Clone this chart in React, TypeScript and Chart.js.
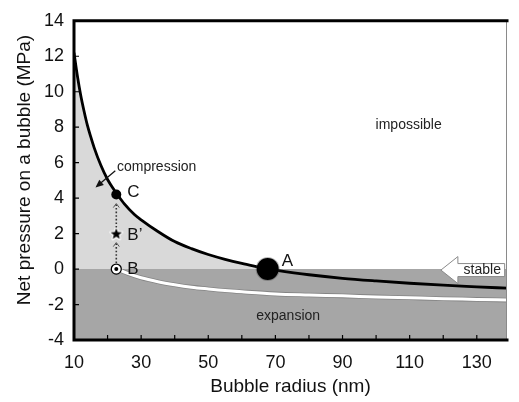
import React, { useEffect, useRef } from 'react';
import { Chart, registerables } from 'chart.js';

Chart.register(...registerables);

// ---- data ----
const compressedRadius = [10, 11, 12, 13, 14, 15, 16, 18, 20, 22, 23, 25, 28, 30, 35, 40, 45, 50, 55, 60, 65, 68, 70, 80, 90, 100, 110, 120, 130, 139];
const compressedPressure = [12.2, 10.9, 9.8, 8.9, 8.1, 7.45, 6.85, 5.85, 5.05, 4.45, 4.18, 3.68, 3.08, 2.78, 2.12, 1.55, 1.15, 0.82, 0.55, 0.32, 0.12, 0, -0.06, -0.32, -0.52, -0.67, -0.8, -0.91, -1.0, -1.08];

const freeRadius = [10, 11, 12, 13, 14, 16, 18, 20, 23, 26, 30, 35, 40, 45, 50, 55, 60, 70, 80, 90, 100, 110, 120, 130, 139];
const freePressure = [2.7, 2.27, 1.91, 1.6, 1.34, 0.91, 0.58, 0.31, 0, -0.24, -0.49, -0.71, -0.88, -1.02, -1.12, -1.21, -1.28, -1.4, -1.46, -1.51, -1.57, -1.62, -1.67, -1.71, -1.75];

const markerLabels = ['A', 'C', 'B\u2019', 'B'];
const markerRadius = [67.7, 22.6, 22.6, 22.6];
const markerPressure = [0, 4.2, 2.0, 0];

const xTickValues = [10, 20, 30, 40, 50, 60, 70, 80, 90, 100, 110, 120, 130];
const xLabelValues = [10, 30, 50, 70, 90, 110, 130];
const yTickValues = [-4, -2, 0, 2, 4, 6, 8, 10, 12, 14];

const regionNotes = ['impossible', 'compression', 'expansion', 'stable'];
const yTitle = 'Net pressure on a bubble (MPa)';
const xTitle = 'Bubble radius (nm)';

// ---- styling / placement ----
const FAMILY = '"Liberation Sans", Arial, Helvetica, sans-serif';
const LIGHT = '#d9d9d9';
const DARK = '#a6a6a6';
const X_MIN = 10;
const X_MAX = 139;

function makeStar(): HTMLCanvasElement {
  const c = document.createElement('canvas');
  c.width = 18;
  c.height = 18;
  const g = c.getContext('2d')!;
  g.translate(9, 9.5);
  g.beginPath();
  for (let i = 0; i < 10; i++) {
    const r = i % 2 === 0 ? 6 : 2.6;
    const a = -Math.PI / 2 + (i * Math.PI) / 5;
    g.lineTo(r * Math.cos(a), r * Math.sin(a));
  }
  g.closePath();
  g.lineJoin = 'round';
  g.lineWidth = 2.5;
  g.strokeStyle = 'rgba(255,255,255,0.95)';
  g.stroke();
  g.fillStyle = '#000';
  g.fill();
  return c;
}

const overlayPlugin = {
  id: 'overlay',
  afterDatasetsDraw(chart: any) {
    const { ctx } = chart;
    const xs = chart.scales.x;
    const ys = chart.scales.y;
    const px = (v: number) => xs.getPixelForValue(v);
    const py = (v: number) => ys.getPixelForValue(v);
    ctx.save();

    // dotted arrows B -> B' -> C
    const bx = px(markerRadius[3]);
    const segs = [
      [markerPressure[3], markerPressure[2]],
      [markerPressure[2], markerPressure[1]],
    ];
    segs.forEach(([from, to]) => {
      const y0 = py(from) - 6;
      const y1 = py(to) + 9;
      ctx.strokeStyle = '#333';
      ctx.lineWidth = 1.6;
      ctx.setLineDash([1.6, 2]);
      ctx.beginPath();
      ctx.moveTo(bx, y0);
      ctx.lineTo(bx, y1);
      ctx.stroke();
      ctx.setLineDash([]);
      ctx.lineWidth = 1;
      ctx.strokeStyle = '#555';
      ctx.beginPath();
      ctx.moveTo(bx - 3, y1 + 4);
      ctx.lineTo(bx, y1);
      ctx.lineTo(bx + 3, y1 + 4);
      ctx.stroke();
    });

    // compression arrow
    const ax0 = px(22.3), ay0 = py(5.55);
    const ax1 = px(16.4), ay1 = py(4.6);
    const ang = Math.atan2(ay1 - ay0, ax1 - ax0);
    ctx.strokeStyle = '#111';
    ctx.fillStyle = '#111';
    ctx.lineWidth = 1.3;
    ctx.beginPath();
    ctx.moveTo(ax0, ay0);
    ctx.lineTo(ax1 - 5 * Math.cos(ang), ay1 - 5 * Math.sin(ang));
    ctx.stroke();
    ctx.beginPath();
    ctx.moveTo(ax1, ay1);
    ctx.lineTo(ax1 - 8 * Math.cos(ang) + 3.5 * Math.sin(ang), ay1 - 8 * Math.sin(ang) - 3.5 * Math.cos(ang));
    ctx.lineTo(ax1 - 8 * Math.cos(ang) - 3.5 * Math.sin(ang), ay1 - 8 * Math.sin(ang) + 3.5 * Math.cos(ang));
    ctx.closePath();
    ctx.fill();

    // region notes
    ctx.font = `14px ${FAMILY}`;
    ctx.fillStyle = '#222';
    ctx.textBaseline = 'middle';
    ctx.textAlign = 'center';
    ctx.fillText(regionNotes[0], px(109.7), py(8.1));
    ctx.textAlign = 'left';
    ctx.fillText(regionNotes[1], px(22.8), py(5.75));
    ctx.textAlign = 'center';
    ctx.fillText(regionNotes[2], px(73.8), py(-2.63));

    // stable block arrow
    const tipX = px(119.3);
    const endX = px(138.3);
    const cy = py(0) + 1;
    ctx.beginPath();
    ctx.moveTo(tipX, cy);
    ctx.lineTo(tipX + 17, cy - 13.5);
    ctx.lineTo(tipX + 17, cy - 6.5);
    ctx.lineTo(endX, cy - 6.5);
    ctx.lineTo(endX, cy + 6.5);
    ctx.lineTo(tipX + 17, cy + 6.5);
    ctx.lineTo(tipX + 17, cy + 13.5);
    ctx.closePath();
    ctx.fillStyle = '#fff';
    ctx.fill();
    ctx.strokeStyle = '#8a8a8a';
    ctx.lineWidth = 1;
    ctx.stroke();
    ctx.fillStyle = '#222';
    ctx.font = `14px ${FAMILY}`;
    ctx.textAlign = 'center';
    ctx.fillText(regionNotes[3], (tipX + 17 + endX) / 2 + 1, cy);

    // marker letters
    const offs = [
      [14, -8],
      [11, -2],
      [11, 2],
      [11, 0],
    ];
    ctx.font = `17px ${FAMILY}`;
    ctx.fillStyle = '#111';
    ctx.textAlign = 'left';
    markerLabels.forEach((t, i) => {
      ctx.fillText(t, px(markerRadius[i]) + offs[i][0], py(markerPressure[i]) + offs[i][1]);
    });
    ctx.restore();
  },
  afterDraw(chart: any) {
    const { ctx, chartArea } = chart;
    const xs = chart.scales.x;
    const ys = chart.scales.y;
    const { left, right, top, bottom } = chartArea;
    ctx.save();
    // inner ticks
    ctx.strokeStyle = '#000';
    ctx.lineWidth = 1.2;
    ctx.beginPath();
    xTickValues.forEach((v) => {
      const x = xs.getPixelForValue(v);
      ctx.moveTo(x, bottom);
      ctx.lineTo(x, bottom - 5);
    });
    yTickValues.forEach((v) => {
      const y = ys.getPixelForValue(v);
      ctx.moveTo(left, y);
      ctx.lineTo(left + 5, y);
    });
    ctx.stroke();
    // frame
    ctx.strokeStyle = '#8a8a8a';
    ctx.lineWidth = 1;
    ctx.beginPath();
    ctx.moveTo(right - 0.5, top);
    ctx.lineTo(right - 0.5, bottom);
    ctx.stroke();
    ctx.strokeStyle = '#000';
    ctx.lineWidth = 3;
    ctx.lineCap = 'square';
    ctx.beginPath();
    ctx.moveTo(right, top);
    ctx.lineTo(left, top);
    ctx.lineTo(left, bottom);
    ctx.lineTo(right, bottom);
    ctx.stroke();
    // y title
    ctx.translate(25, 170);
    ctx.rotate(-Math.PI / 2);
    ctx.font = `19px ${FAMILY}`;
    ctx.fillStyle = '#111';
    ctx.textAlign = 'center';
    ctx.textBaseline = 'middle';
    ctx.fillText(yTitle, 0, 0);
    ctx.restore();
  },
};

export default function App() {
  const ref = useRef<HTMLCanvasElement | null>(null);

  useEffect(() => {
    if (!ref.current) return;
    const star = makeStar();
    const black = compressedRadius.map((x, i) => ({ x, y: compressedPressure[i] }));
    const white = freeRadius.map((x, i) => ({ x, y: freePressure[i] }));
    const pt = (i: number) => [{ x: markerRadius[i], y: markerPressure[i] }];

    const chart = new Chart(ref.current, {
      type: 'line',
      data: {
        datasets: [
          { data: pt(0), showLine: false, pointRadius: 11, pointBackgroundColor: '#000', pointBorderWidth: 0, order: 0 } as any,
          { data: pt(1), showLine: false, pointRadius: 5, pointBackgroundColor: '#000', pointBorderWidth: 0, order: 0 } as any,
          { data: pt(2), showLine: false, pointStyle: star, pointRadius: 6, order: 0 } as any,
          { data: pt(3), showLine: false, pointRadius: 2, pointBackgroundColor: '#000', pointBorderWidth: 0, order: 0 } as any,
          { data: pt(3), showLine: false, pointRadius: 5, pointBackgroundColor: '#fff', pointBorderColor: '#000', pointBorderWidth: 1.3, order: 1 } as any,
          { data: pt(0), showLine: false, pointRadius: 12, pointBackgroundColor: 'rgba(60,60,60,0.35)', pointBorderWidth: 0, order: 2 } as any,
          {
            data: black,
            borderColor: '#000',
            borderWidth: 2.8,
            pointRadius: 0,
            cubicInterpolationMode: 'monotone',
            fill: { target: { value: 0 }, above: LIGHT, below: 'rgba(0,0,0,0)' },
            order: 4,
          } as any,
          { data: white, borderColor: '#fff', borderWidth: 3, pointRadius: 0, cubicInterpolationMode: 'monotone', fill: false, order: 5 } as any,
          { data: white, borderColor: 'rgba(90,90,90,0.45)', borderWidth: 4.6, pointRadius: 0, cubicInterpolationMode: 'monotone', fill: false, order: 6 } as any,
          {
            data: [
              { x: X_MIN, y: 0 },
              { x: X_MAX, y: 0 },
            ],
            borderWidth: 0,
            borderColor: 'rgba(0,0,0,0)',
            backgroundColor: DARK,
            pointRadius: 0,
            fill: 'start',
            order: 10,
          } as any,
        ],
      },
      options: {
        animation: false,
        responsive: false,
        events: [],
        layout: { padding: { top: 11, right: 2, left: 0, bottom: 0 } },
        plugins: { legend: { display: false }, tooltip: { enabled: false } },
        scales: {
          x: {
            type: 'linear',
            min: X_MIN,
            max: X_MAX,
            grid: { display: false, drawTicks: false },
            border: { display: false },
            ticks: {
              stepSize: 10,
              includeBounds: false,
              autoSkip: false,
              maxRotation: 0,
              padding: 12,
              color: '#111',
              font: { size: 18, family: FAMILY },
              callback: (v: any) => (xLabelValues.includes(Number(v)) ? String(v) : null),
            },
            title: {
              display: true,
              text: xTitle,
              color: '#111',
              font: { size: 19, family: FAMILY },
              padding: { top: 0, bottom: 4 },
            },
            afterFit: (s: any) => {
              s.height = 62;
            },
          },
          y: {
            type: 'linear',
            min: -4,
            max: 14,
            grid: { display: false, drawTicks: false },
            border: { display: false },
            ticks: {
              stepSize: 2,
              autoSkip: false,
              padding: 10,
              color: '#111',
              font: { size: 18, family: FAMILY },
              callback: (v: any) => (yTickValues.includes(Number(v)) ? String(v) : null),
            },
            title: { display: false },
            afterFit: (s: any) => {
              s.width = 74;
            },
          },
        },
      } as any,
      plugins: [overlayPlugin],
    });
    return () => chart.destroy();
  }, []);

  return (
    <div style={{ position: 'absolute', left: 0, top: 0, width: 519, height: 402, background: '#fff' }}>
      <canvas ref={ref} width={519} height={402} style={{ display: 'block' }} />
    </div>
  );
}
